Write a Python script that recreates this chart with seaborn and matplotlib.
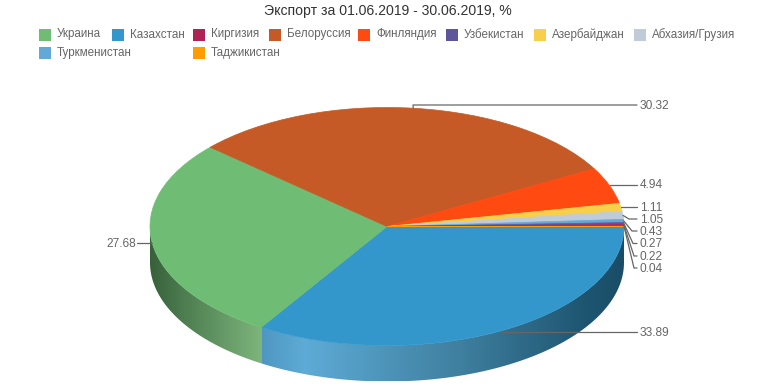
import numpy as np
import matplotlib
matplotlib.use('Agg')
import matplotlib.pyplot as plt
from matplotlib.colors import LinearSegmentedColormap
from matplotlib.patches import Polygon, Rectangle
from matplotlib.transforms import Affine2D
import seaborn as sns

sns.set_theme(style='white')
plt.rcParams['font.family'] = ['Liberation Sans', 'DejaVu Sans']

title = 'Экспорт за 01.06.2019 - 30.06.2019, %'
legend_names = ['Украина', 'Казахстан', 'Киргизия', 'Белоруссия', 'Финляндия',
                'Узбекистан', 'Азербайджан', 'Абхазия/Грузия', 'Туркменистан', 'Таджикистан']
legend_colors = ['#6fbd74', '#3397cc', '#b02256', '#c55a27', '#ff4a12',
                 '#5f559b', '#f7cf4a', '#c0cbd9', '#63a9d8', '#ff9c00']
legend_x = [39, 112, 193, 269, 358, 446, 534, 634, 39, 193]
legend_y = [34.5, 34.5, 34.5, 34.5, 34.5, 34.5, 34.5, 34.5, 52.7, 52.7]

# order on the pie, clockwise from Kazakhstan
slices = ['Казахстан', 'Украина', 'Белоруссия', 'Финляндия', 'Азербайджан',
          'Абхазия/Грузия', 'Туркменистан', 'Узбекистан', 'Киргизия', 'Таджикистан']
values = [33.89, 27.68, 30.32, 4.94, 1.11, 1.05, 0.43, 0.27, 0.22, 0.04]
value_labels = ['33.89', '27.68', '30.32', '4.94', '1.11', '1.05', '0.43', '0.27', '0.22', '0.04']
label_y = [332, 243, 105, 184.5, 207, 219, 231, 243.5, 256, 268]
elbow_x = [None, None, 413, None, None, 629, 632, 633, 634, 634]

W, H = 774, 387
cx, cy, rx, ry, depth = 387, 226.5, 237, 119, 36

fig = plt.figure(figsize=(W / 100, H / 100), dpi=100, facecolor='white')
ax = fig.add_axes([0, 0, 1, 1])

col = dict(zip(legend_names, legend_colors))
start = 0
wedges, _ = ax.pie(values, colors=[col[s] for s in slices], startangle=-start, counterclock=False,
                   radius=1, wedgeprops=dict(linewidth=0.5))
for w in wedges:
    w.set_zorder(3)
    w.set_edgecolor(w.get_facecolor())
ax.axis('off')

d = depth / ry
total = sum(values)
edges = start + np.cumsum([0] + values) / total * 360


def wall(a0, a1, stops):
    # side of the pie, gradient runs left to right over the x range of the slice
    t = np.radians(np.linspace(a0, a1, 80))
    x, y = np.cos(t), -np.sin(t)
    pts = np.r_[np.c_[x, y], np.c_[x[::-1], y[::-1] - d]]
    poly = Polygon(pts, closed=True, fc='none', ec='none', transform=ax.transData)
    ax.add_patch(poly)
    cm = LinearSegmentedColormap.from_list('w', stops)
    im = ax.imshow(np.linspace(0, 1, 256)[None, :], cmap=cm, aspect='auto', zorder=1,
                   extent=[x.min(), x.max(), (y - d).min(), y.max()])
    im.set_clip_path(poly)


wall(edges[0], edges[1], [(0, '#4f97c2'), (0.12, '#5dabd6'), (0.55, '#3f7f9f'), (0.9, '#1d5570'), (1, '#1a4d67')])
wall(edges[1], 180, [(0, '#38603a'), (0.3, '#4d7d50'), (1, '#7db57c')])

ax.set_aspect('auto')
ax.set_xlim(-cx / rx, (W - cx) / rx)
ax.set_ylim(-(H - cy) / ry, cy / ry)

# pixel coordinates with y going down, for the legend, title and labels
px = Affine2D().scale(1, -1).translate(0, H)

fig.text(387.5 / W, 1 - 11.5 / H, title, ha='center', va='center', fontsize=10.05, color='#333333')
for name, c, x, y in zip(legend_names, legend_colors, legend_x, legend_y):
    fig.add_artist(Rectangle((x, y - 6), 12, 12, fc=c, ec='none', transform=px))
    fig.text((x + 18) / W, 1 - y / H, name, ha='left', va='center', fontsize=8.4, color='#666666')

mids = (edges[:-1] + edges[1:]) / 2
for m, lab, ly, ex in zip(mids, value_labels, label_y, elbow_x):
    a = np.radians(m)
    sx, sy = cx + rx * np.cos(a), cy + ry * np.sin(a)
    right = np.cos(a) > -0.5
    tx = 637 if right else 137
    if ex is None:
        lx, lyy = [sx, tx], [ly, ly]
    else:
        lx, lyy = [sx, ex, tx], [sy, ly, ly]
    fig.add_artist(plt.Line2D(lx, lyy, color='#666666', lw=0.9, transform=px, zorder=5))
    fig.text((tx + 3 if right else tx - 1) / W, 1 - (ly + 0.8) / H, lab, ha='left' if right else 'right',
             va='center', fontsize=8.6, color='#666666')

fig.savefig('out.png', dpi=100)
